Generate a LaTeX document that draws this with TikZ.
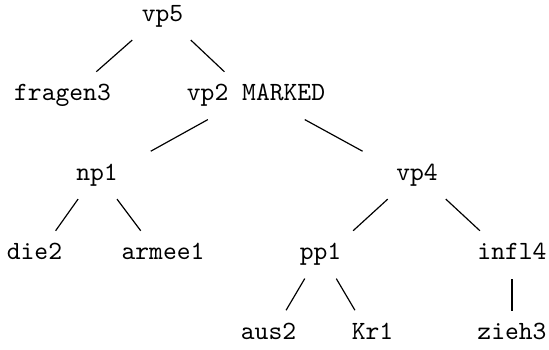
\documentclass[tikz,border=0pt]{standalone}
\usetikzlibrary{calc}
\tikzset{
  tn/.style={anchor=base, inner sep=0pt, text height=6.15pt, text depth=0pt, font=\ttfamily},
  tl/.style={line width=0.45pt}
}
\newcommand\treeedge[2]{\draw[tl] ($(#1.center)!0.303!(#2.south)$) -- ($(#1.center)!0.662!(#2.south)$);}
\begin{document}
\begin{tikzpicture}[x=0.38pt, y=-0.38pt]
\useasboundingbox (0,0) rectangle (549,350);
\node[tn] (vp5) at (162.5,21.5) {vp5};
\node[tn] (fragen3) at (62.5,101) {fragen3};
\node[tn] (vp2) at (256,101) {vp2 MARKED};
\node[tn] (np1) at (97,180.5) {np1};
\node[tn] (vp4) at (417,180.5) {vp4};
\node[tn] (die2) at (34.5,260) {die2};
\node[tn] (armee1) at (163,260) {armee1};
\node[tn] (pp1) at (320.5,260) {pp1};
\node[tn] (infl4) at (512,260) {infl4};
\node[tn] (aus2) at (268.5,339.5) {aus2};
\node[tn] (Kr1) at (372.5,339.5) {Kr1};
\node[tn] (zieh3) at (512,339.5) {zieh3};
\treeedge{vp5}{fragen3}
\treeedge{vp5}{vp2}
\treeedge{vp2}{np1}
\treeedge{vp2}{vp4}
\treeedge{np1}{die2}
\treeedge{np1}{armee1}
\treeedge{vp4}{pp1}
\treeedge{vp4}{infl4}
\treeedge{pp1}{aus2}
\treeedge{pp1}{Kr1}
\draw[tl, line width=0.6pt] ($(infl4.south)+(0,18.5)$) -- ($(zieh3.south)+(0,-29.5)$);
\end{tikzpicture}
\end{document}
